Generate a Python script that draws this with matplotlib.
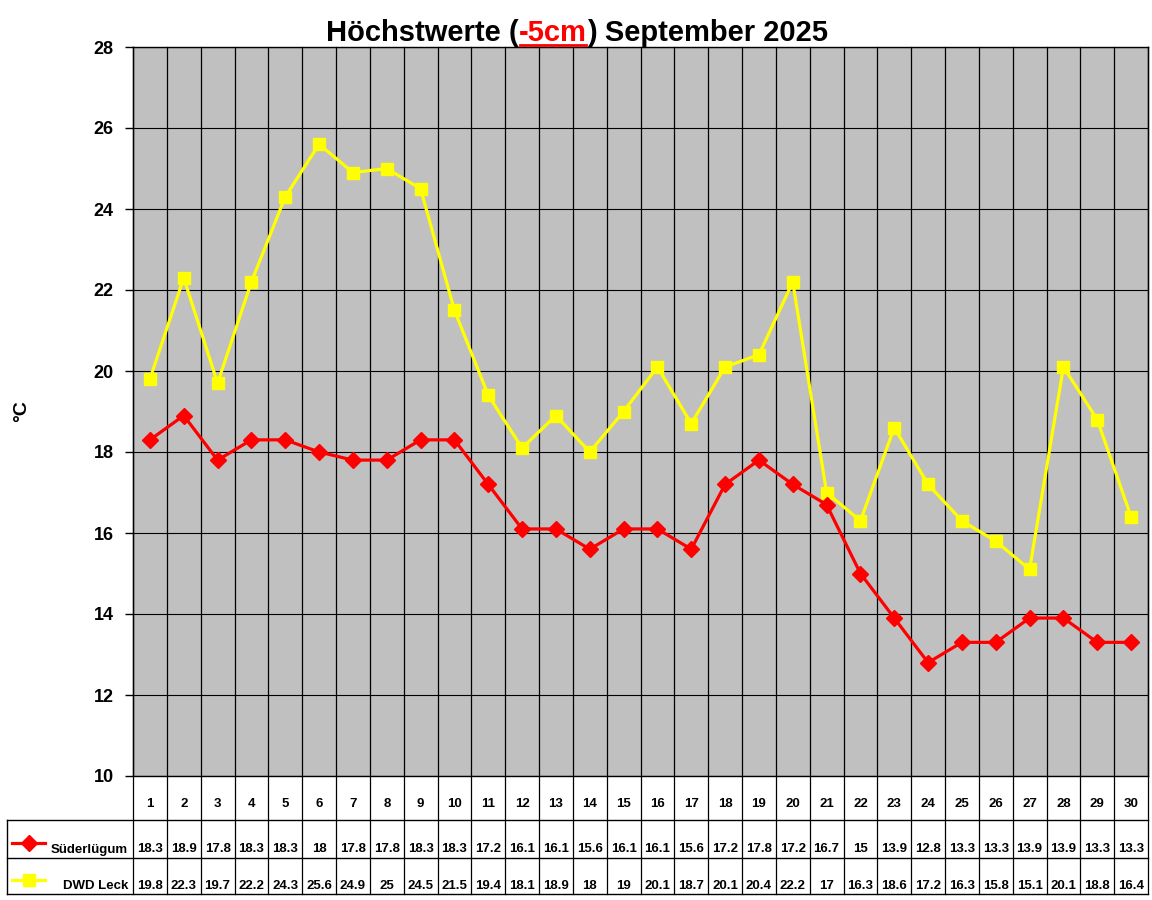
import matplotlib
matplotlib.use("Agg")
import matplotlib.pyplot as plt
from matplotlib.lines import Line2D

plt.rcParams['font.family'] = ['Liberation Sans', 'DejaVu Sans']
plt.rcParams['font.weight'] = 'bold'

days = list(range(1, 31))
suederluegum = [18.3, 18.9, 17.8, 18.3, 18.3, 18, 17.8, 17.8, 18.3, 18.3,
                17.2, 16.1, 16.1, 15.6, 16.1, 16.1, 15.6, 17.2, 17.8, 17.2,
                16.7, 15, 13.9, 12.8, 13.3, 13.3, 13.9, 13.9, 13.3, 13.3]
dwd_leck = [19.8, 22.3, 19.7, 22.2, 24.3, 25.6, 24.9, 25, 24.5, 21.5,
            19.4, 18.1, 18.9, 18, 19, 20.1, 18.7, 20.1, 20.4, 22.2,
            17, 16.3, 18.6, 17.2, 16.3, 15.8, 15.1, 20.1, 18.8, 16.4]
series_names = ["Süderlügum", "DWD Leck"]
y_ticks = list(range(10, 29, 2))
title_parts = ["Höchstwerte (", "-5cm", ") September 2025"]
y_label = "°C"

W, H = 1152, 900
fig = plt.figure(figsize=(W / 100, H / 100), dpi=100)
L, R, T, B = 133, 1148, 47, 776
ax = fig.add_axes([L / W, 1 - B / H, (R - L) / W, (B - T) / H])
ax.set_facecolor('#C0C0C0')
ax.set_xlim(0.5, 30.5)
ax.set_ylim(10, 28)
ax.set_yticks(y_ticks)
ax.set_yticklabels([str(v) for v in y_ticks], fontsize=13, fontweight='bold')
ax.set_xticks([])
ax.tick_params(axis='y', length=6, width=1, pad=8, direction='out')
ax.yaxis.grid(True, color='black', lw=0.8)
ax.set_axisbelow(True)
for s in ax.spines.values():
    s.set_color('black')
    s.set_linewidth(1)


def py(p):
    return (B - p) / (B - T)


xt = ax.get_xaxis_transform()
# vertical separators
for i in range(31):
    x = 0.5 + i
    ax.add_line(Line2D([x, x], [1, py(894)], transform=xt, color='black',
                       lw=0.9, clip_on=False, zorder=1))

# series
ax.plot(days, suederluegum, color='#FF0000', lw=2.3, marker='D', markersize=8,
        zorder=4, clip_on=False)
ax.plot(days, dwd_leck, color='#FFFF00', lw=2.3, marker='s', markersize=9,
        zorder=3, clip_on=False)


def hline(ypix, x0pix, x1pix):
    fig.add_artist(Line2D([x0pix / W, x1pix / W], [1 - ypix / H, 1 - ypix / H],
                          color='black', lw=1))


def vline(xpix, y0pix, y1pix):
    fig.add_artist(Line2D([xpix / W, xpix / W], [1 - y0pix / H, 1 - y1pix / H],
                          color='black', lw=1))


hline(820, 7, R)
hline(858, 7, R)
hline(894, 7, R)
vline(7, 820, 894)

fs_tab = 9.5
for d, a, b in zip(days, suederluegum, dwd_leck):
    ax.text(d, py(804), str(d), transform=xt, ha='center', va='center',
            fontsize=fs_tab, fontweight='bold', clip_on=False)
    ax.text(d, py(849), f"{a:g}", transform=xt, ha='center', va='center',
            fontsize=fs_tab, fontweight='bold', clip_on=False)
    ax.text(d, py(886), f"{b:g}", transform=xt, ha='center', va='center',
            fontsize=fs_tab, fontweight='bold', clip_on=False)

# legend keys in table
fig.add_artist(Line2D([12 / W, 45 / W], [1 - 843 / H] * 2, color='#FF0000', lw=2.3))
fig.add_artist(Line2D([28.5 / W], [1 - 843 / H], color='#FF0000', marker='D',
                      markersize=8, lw=0))
fig.add_artist(Line2D([12 / W, 45 / W], [1 - 880 / H] * 2, color='#FFFF00', lw=2.3))
fig.add_artist(Line2D([28.5 / W], [1 - 880 / H], color='#FFFF00', marker='s',
                      markersize=9, lw=0))
fig.text(128 / W, 1 - 850 / H, series_names[0], ha='right', va='center',
         fontsize=fs_tab, fontweight='bold')
fig.text(128 / W, 1 - 886 / H, series_names[1], ha='right', va='center',
         fontsize=fs_tab, fontweight='bold')

fig.text(22 / W, 1 - 411 / H, y_label, rotation=90, ha='center', va='center',
         fontsize=14, fontweight='bold')

renderer = fig.canvas.get_renderer()
colors = ['black', '#FF0000', 'black']
texts = []
for part, c in zip(title_parts, colors):
    t = fig.text(0, 1 - 41 / H, part, color=c, fontsize=21, fontweight='bold',
                 ha='left', va='baseline')
    texts.append(t)
widths = [t.get_window_extent(renderer).width for t in texts]
total = sum(widths)
x = 577 - total / 2
starts = []
for t, w in zip(texts, widths):
    t.set_x(x / W)
    starts.append(x)
    x += w
ux0 = starts[1] + 1
ux1 = starts[1] + widths[1] - 1
fig.add_artist(Line2D([ux0 / W, ux1 / W], [1 - 44.5 / H] * 2, color='#FF0000', lw=2))

fig.savefig('out.png', dpi=100, facecolor='white')
